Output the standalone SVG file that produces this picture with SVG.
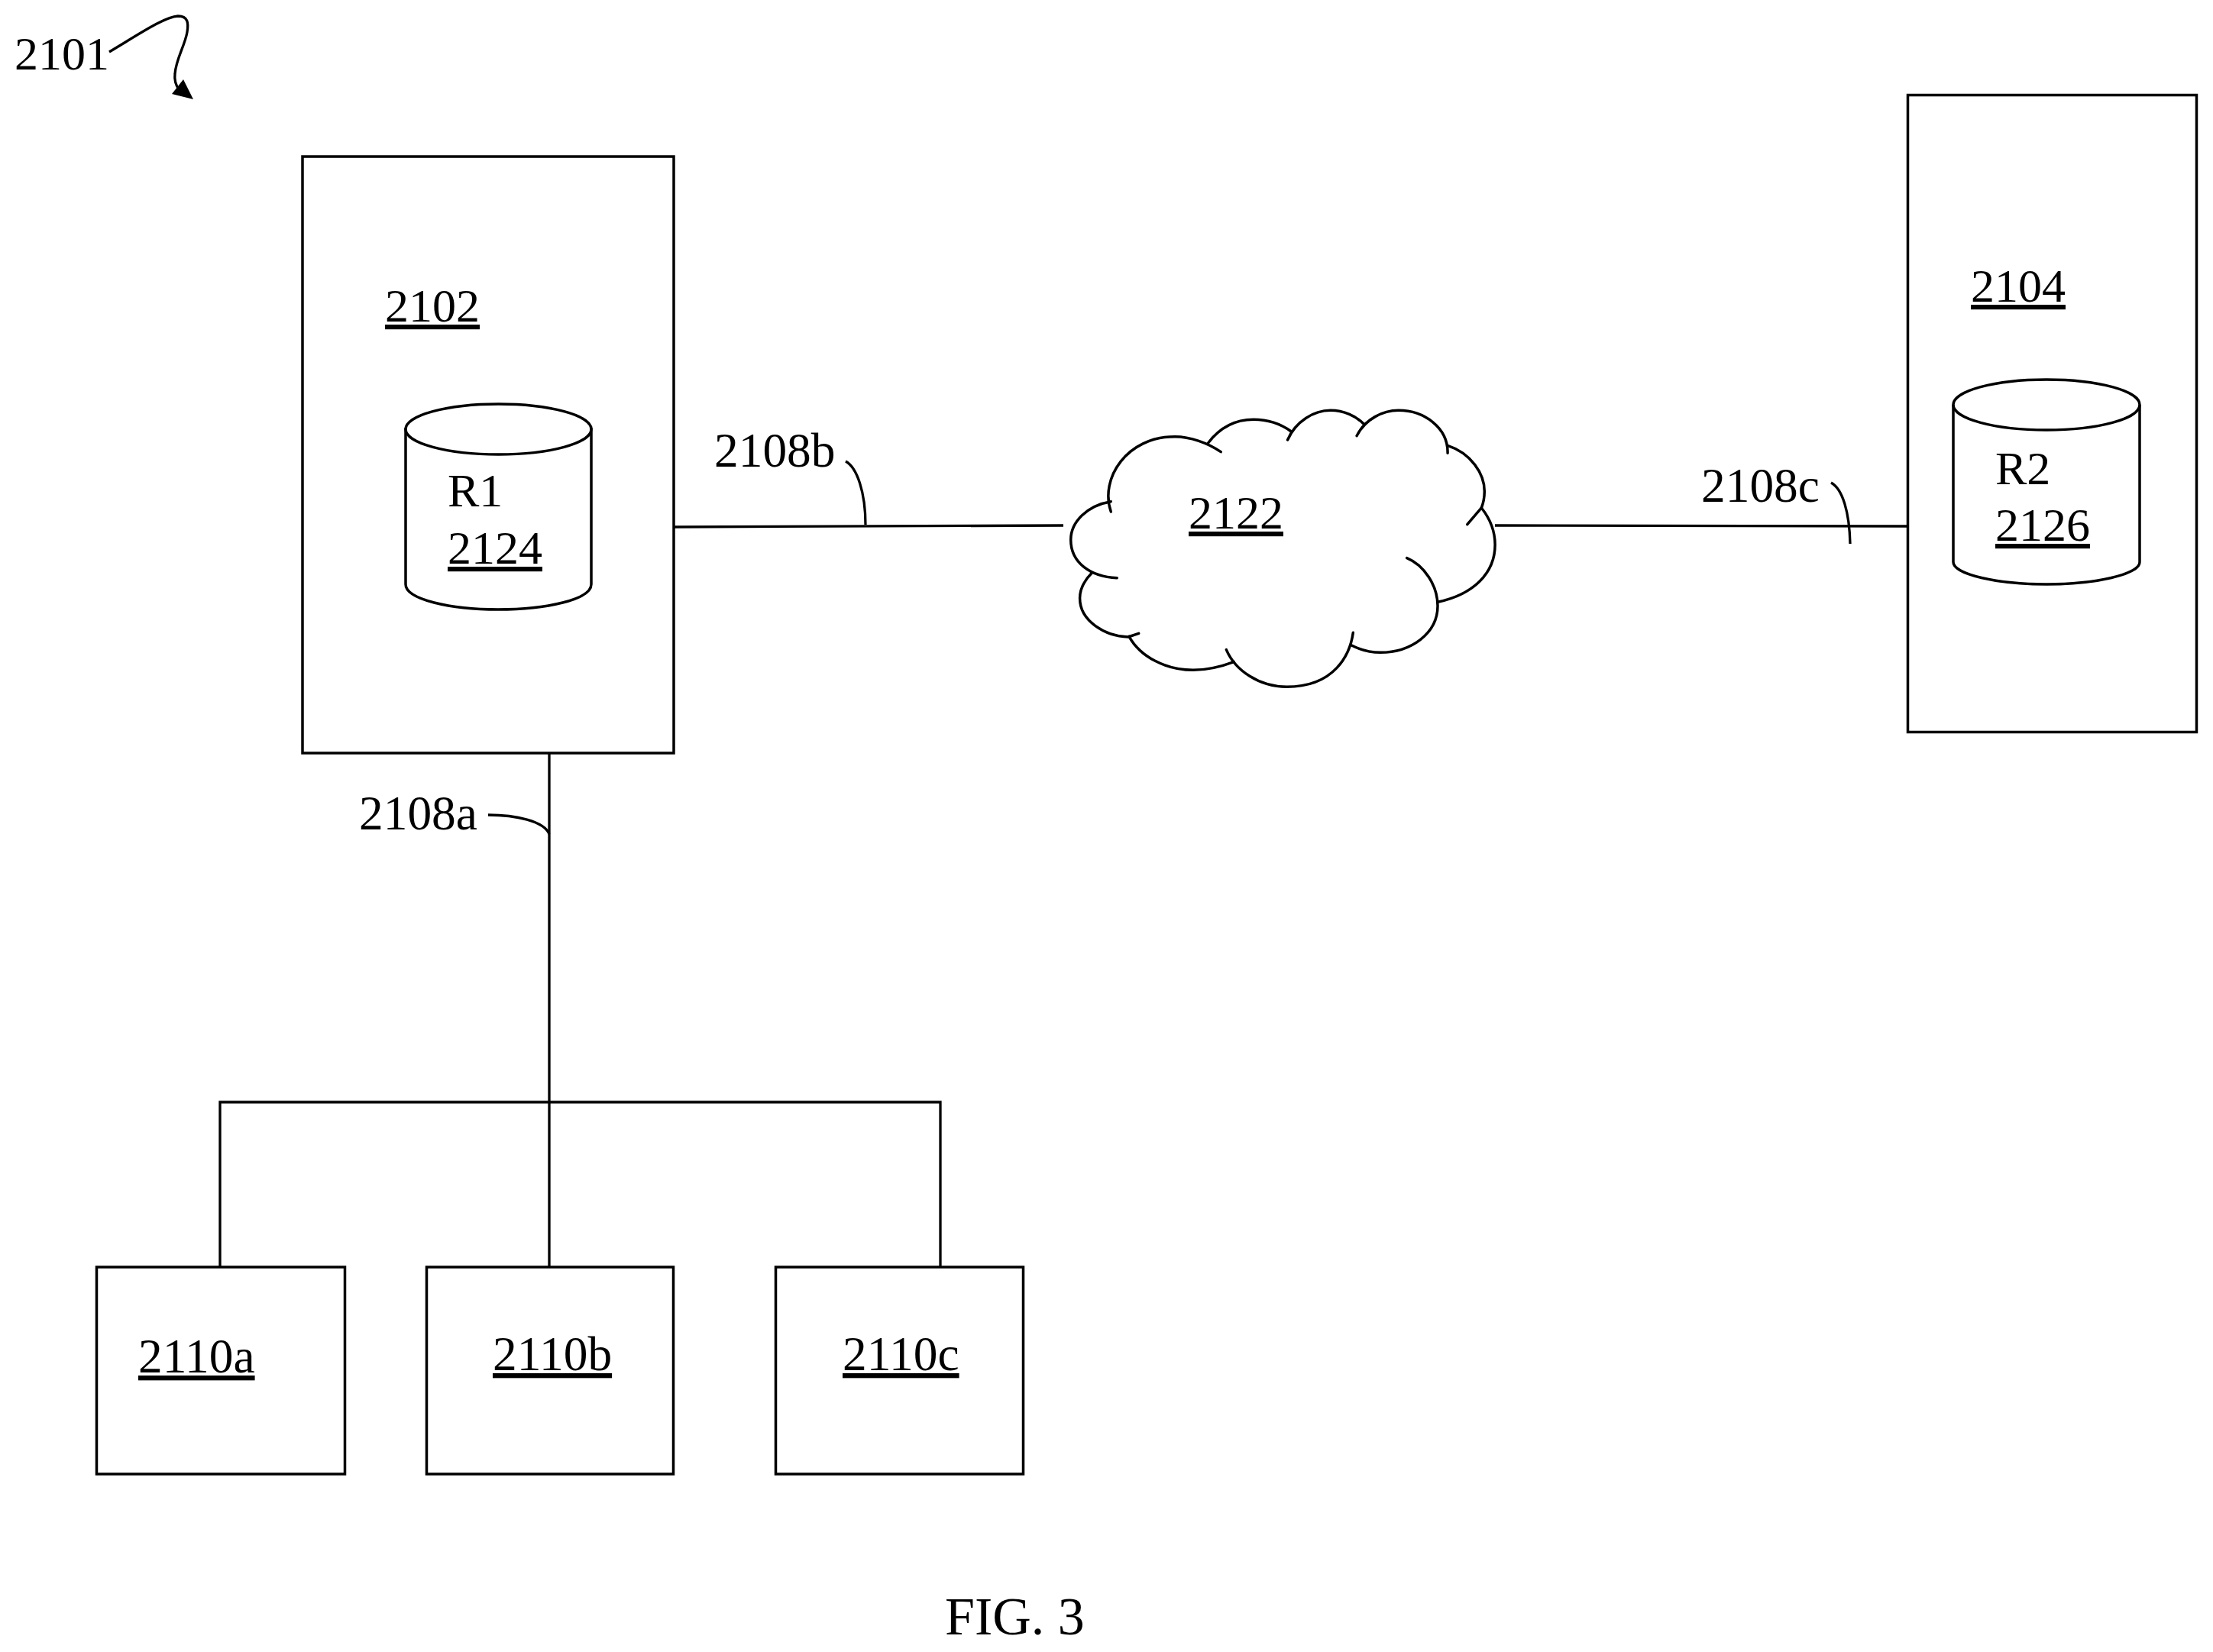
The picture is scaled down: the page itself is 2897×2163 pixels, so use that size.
<svg xmlns="http://www.w3.org/2000/svg" width="2897" height="2163" viewBox="0 0 2897 2163">
<style>
text{font-family:"Liberation Serif","Times New Roman",serif;font-size:62px;fill:#000}
text.w{font-size:63.400px}
text.f{font-size:70px}
.u{text-decoration:underline}
.s{fill:none;stroke:#000;stroke-width:3.500;stroke-linejoin:round;stroke-linecap:round}
.l{fill:none;stroke:#000;stroke-width:3.300;stroke-linecap:butt}
.b{fill:#fff;stroke:#000;stroke-width:3.500}
.c path{vector-effect:non-scaling-stroke;fill:none;stroke:#000;stroke-width:3.500;stroke-linecap:round;stroke-linejoin:round}
</style>
<rect width="2897" height="2163" fill="#fff"/>
<g id="ref-2101">
<text x="19" y="91">2101</text>
<path class="l" d="M143 68C180 46 215 22 233 21C246 21 247 30 245 42C242 60 230 78 229 97C228 105 230 111 234 117"/>
<polygon points="240,104 253,130 225,123" fill="#000"/>
</g>
<g id="connectors">
<path class="l" d="M882 690L1392 688"/>
<path class="l" d="M1957 688L2497 689"/>
<path class="l" d="M719 985V1659"/>
<path class="l" d="M288 1659V1443H1231V1659"/>
<path class="l" d="M1107 604C1122 612 1133 645 1133 687"/>
<path class="l" d="M2397 632C2412 640 2421 670 2422 712"/>
<path class="l" d="M639 1067C675 1067 712 1075 719 1092"/>
</g>
<g id="node-2102">
<rect class="b" x="396" y="205" width="486" height="781"/>
<text class="u" x="504" y="421">2102</text>
<g id="node-2124">
<path class="s" d="M531 561V765C531 785 590 798 652 798C715 798 774 785 774 765V561"/>
<ellipse class="s" cx="652.500" cy="562" rx="121.500" ry="33"/>
<text x="586" y="663">R1</text>
<text class="u" x="586" y="738">2124</text>
</g>
</g>
<g id="node-2104">
<rect class="b" x="2497.500" y="124.500" width="378" height="834"/>
<text class="u" x="2580" y="395">2104</text>
<g id="node-2126">
<path class="s" d="M2557 531V736C2557 752 2615 765 2679 765C2743 765 2801 752 2801 736V531"/>
<ellipse class="s" cx="2679" cy="530" rx="122" ry="33"/>
<text x="2612" y="634">R2</text>
<text class="u" x="2612" y="708">2126</text>
</g>
</g>
<g id="node-2122">
<g class="c" transform="translate(1380 520) scale(.3953 .3333)">
<path d="M188 450C150 320 240 155 400 155C450 155 510 180 552 215"/>
<path d="M510 180C555 110 610 88 660 88C705 88 750 105 785 135"/>
<path d="M773 168C800 95 860 52 915 52C960 52 1000 75 1025 105"/>
<path d="M1002 152C1030 85 1090 52 1140 52C1225 52 1305 120 1303 220"/>
<path d="M1303 190C1380 220 1425 300 1425 370C1425 395 1420 420 1415 435L1368 500"/>
<path d="M1415 435C1445 480 1460 530 1460 580C1460 690 1390 775 1270 805"/>
<path d="M1168 632C1225 660 1270 740 1270 820C1270 930 1180 1003 1080 1003C1045 1003 1010 990 985 975"/>
<path d="M990 925C980 1010 930 1138 770 1138C680 1138 600 1075 570 992"/>
<path d="M595 1040C550 1060 510 1072 460 1072C370 1072 285 1020 248 940"/>
<path d="M280 928L245 942C170 940 85 880 85 790C85 755 100 720 125 690"/>
<path d="M208 710C120 705 55 650 55 560C55 490 110 425 188 410"/>
</g>
<text class="u" x="1556" y="692">2122</text>
</g>
<g id="label-2108a"><text class="w" x="470" y="1086">2108a</text></g>
<g id="label-2108b"><text class="w" x="935" y="611">2108b</text></g>
<g id="label-2108c"><text class="w" x="2227" y="657">2108c</text></g>
<g id="node-2110a">
<rect class="b" x="126.500" y="1659" width="325" height="271"/>
<text class="u w" x="181" y="1797">2110a</text>
</g>
<g id="node-2110b">
<rect class="b" x="558.500" y="1659" width="323" height="271"/>
<text class="u w" x="645" y="1794">2110b</text>
</g>
<g id="node-2110c">
<rect class="b" x="1015.500" y="1659" width="324" height="271"/>
<text class="u w" x="1103" y="1794">2110c</text>
</g>
<text id="fig-label" class="f" x="1237" y="2140">FIG. 3</text>
</svg>
